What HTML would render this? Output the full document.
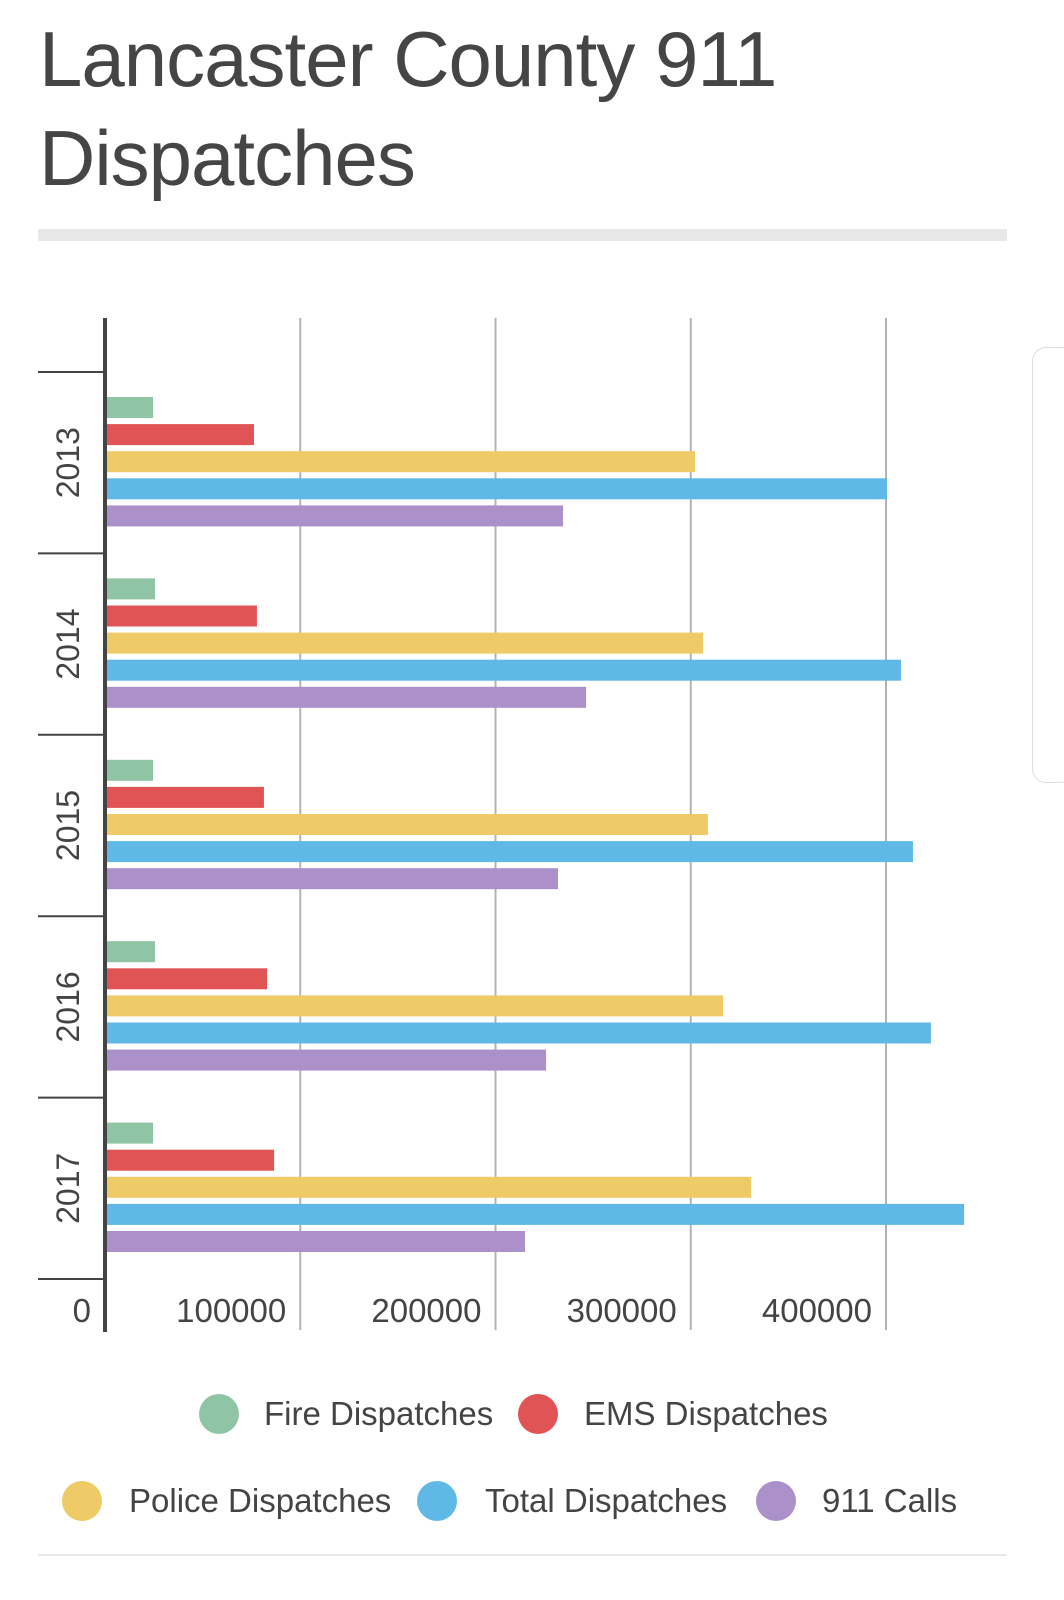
<!DOCTYPE html>
<html><head><meta charset="utf-8">
<style>
body{margin:0;background:#fff;width:1064px;height:1600px;overflow:hidden;font-family:"Liberation Sans",sans-serif;}
#title{position:absolute;left:39px;top:10px;font-size:78px;line-height:99px;color:#454545;margin:0;font-weight:normal;letter-spacing:-1px}
#rule{position:absolute;left:38px;top:229px;width:969px;height:12px;background:#e8e8e8}
#frame{position:absolute;left:1032px;top:347px;width:40px;height:434px;border:1px solid #ddd;border-radius:14px}
#bottom{position:absolute;left:38px;top:1554px;width:969px;height:2px;background:#e8e8e8}
</style></head><body>
<h1 id="title">Lancaster County 911<br>Dispatches</h1>
<div id="rule"></div>
<div id="frame"></div>
<svg id="chart" width="1064" height="1600" style="position:absolute;left:0;top:0"></svg>
<div id="bottom"></div>
<script>
const categories=["2013","2014","2015","2016","2017"];
const seriesNames=["Fire Dispatches","EMS Dispatches","Police Dispatches","Total Dispatches","911 Calls"];
const seriesColors=["#8fc4a4","#e05456","#eecb66","#5fb8e6","#ac90c9"];
const fire=[24600,25600,24600,25600,24600];
const ems=[76300,77800,81400,83000,86600];
const police=[302200,306300,308800,316500,330900];
const total=[400500,407700,413800,423000,440000];
const calls=[234600,246400,232000,225900,215100];
const xTicks=[0,100000,200000,300000,400000];
const tickLabels=["0","100000","200000","300000","400000"];

const NS="http://www.w3.org/2000/svg";
const svg=document.getElementById('chart');
const x0=105,pxPer=195.25/100000,top0=372,band=181.4;
function xs(v){return x0+v*pxPer;}
function mk(t,a){const e=document.createElementNS(NS,t);for(const k in a)e.setAttribute(k,a[k]);svg.appendChild(e);return e;}
xTicks.forEach((t,i)=>{
  if(t>0){const g=mk('line',{x1:xs(t),x2:xs(t),y1:318,y2:1330,stroke:'#b3b3b3','stroke-width':2});
  
  }
  const l=mk('text',{x:xs(t)-14,y:1322,'text-anchor':'end','font-size':33,fill:'#444'});
  l.textContent=tickLabels[i];
  
  
});
for(let i=0;i<=categories.length;i++){
  const y=top0+i*band;
  const t=mk('line',{x1:38,x2:105,y1:y,y2:y,stroke:'#444','stroke-width':2});
  
  
}
const all=[fire,ems,police,total,calls];
categories.forEach((c,i)=>{
  const bt=top0+i*band;
  const lbl=mk('text',{x:0,y:0,'text-anchor':'middle','font-size':32,fill:'#444',transform:`translate(79,${bt+band/2}) rotate(-90)`});
  lbl.textContent=c;
  
  
  all.forEach((s,j)=>{
    const r=mk('rect',{x:x0,y:bt+25+j*27.1,width:xs(s[i])-x0,height:21,fill:seriesColors[j]});
    
    
  });
});
const ax=mk('line',{x1:105,x2:105,y1:318,y2:1332,stroke:'#444','stroke-width':4});


const leg=[[219,1414,264],[538,1414,584],[82,1501,129],[437,1501,485],[776,1501,822]];
leg.forEach((p,j)=>{
  const c=mk('circle',{cx:p[0],cy:p[1],r:20,fill:seriesColors[j]});
  
  
  const t=mk('text',{x:p[2],y:p[1]+11,'font-size':33,fill:'#444'});
  t.textContent=seriesNames[j];
  
  
});
</script>
</body></html>
